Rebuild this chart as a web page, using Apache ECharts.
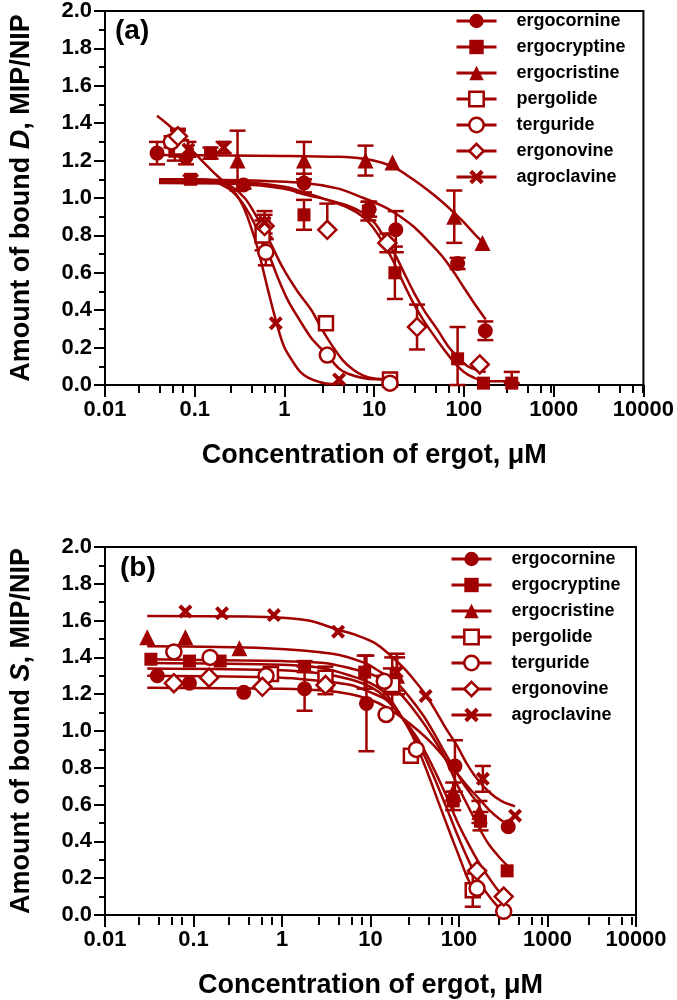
<!DOCTYPE html>
<html><head><meta charset="utf-8">
<script src="https://cdn.jsdelivr.net/npm/echarts@6/dist/echarts.min.js"></script>
<style>html,body{margin:0;padding:0;background:#fff}#c{width:677px;height:1000px}</style>
</head><body><div id="c"></div><script>
// ---------- DATA ----------
const seriesNames = ['ergocornine','ergocryptine','ergocristine','pergolide','terguride','ergonovine','agroclavine'];
const xTickLabels = ['0.01','0.1','1','10','100','1000','10000'];
const yTickLabels = ['0.0','0.2','0.4','0.6','0.8','1.0','1.2','1.4','1.6','1.8','2.0'];
const minorTickMultipliers = [3, 5, 7, 9];

// Panel (a) measured points: [concentration, value, errDown, errUp]
const aErgocornine = [[0.038,1.24,0.06,0.06],[0.08,1.22,0.04,0.04],[0.35,1.07,0.02,0.02],[1.65,1.08,0.05,0.05],[8.8,0.94,0.04,0.04],[17.4,0.83,0.12,0.1],[85,0.65,0.03,0.03],[173,0.29,0.05,0.05]];
const aErgocryptine = [[0.06,1.25,0.05,0.05],[0.09,1.10,0.02,0.02],[0.15,1.24,0.03,0.03],[1.65,0.91,0.08,0.08],[8.6,0.93,0.05,0.05],[17,0.60,0.14,0.14],[85,0.14,0.14,0.17],[165,0.01,0,0],[341,0.01,0,0.06]];
const aErgocristine = [[0.065,1.32,0.05,0.05],[0.3,1.2,0.16,0.16],[1.65,1.2,0.1,0.1],[8,1.2,0.08,0.08],[16,1.19,0,0],[78,0.9,0.14,0.14],[161,0.76,0,0]];
const aPergolide = [[0.07,1.27,0.04,0.04],[0.57,0.80,0.08,0.08],[2.9,0.33,0,0],[15,0.03,0,0]];
const aTerguride = [[0.055,1.30,0.03,0.03],[0.62,0.71,0.07,0.07],[3.0,0.16,0,0],[15,0.01,0,0]];
const aErgonovine = [[0.065,1.33,0.03,0.03],[0.6,0.85,0.06,0.06],[3.0,0.83,0,0.14],[14,0.76,0.05,0.05],[30,0.31,0.12,0.12],[150,0.11,0,0]];
const aAgroclavine = [[0.085,1.26,0.04,0.04],[0.21,1.27,0.03,0.03],[0.6,0.87,0.06,0.06],[0.8,0.33,0,0],[4.06,0.03,0,0]];

// Panel (a) fitted curves: [concentration, value]
const aCurveErgocornine = [[0.04,1.10],[0.3,1.095],[1.65,1.08],[4,1.05],[7.6,1.0],[12,0.96],[17,0.92],[27,0.85],[40,0.77],[57,0.69],[78,0.6],[100,0.52],[129,0.44],[175,0.35]];
const aCurveErgocryptine = [[0.04,1.09],[0.3,1.085],[1,1.06],[1.65,1.03],[3,0.99],[5,0.95],[7.5,0.9],[9.8,0.84],[13,0.75],[16,0.67],[20,0.57],[26.5,0.45],[35,0.35],[47,0.26],[62,0.18],[78,0.12],[100,0.07],[128,0.04],[175,0.02],[350,0.02]];
const aCurveErgocristine = [[0.04,1.23],[1,1.225],[4,1.22],[7.6,1.21],[12,1.19],[17.4,1.16],[27,1.1],[40,1.04],[57,0.98],[78,0.92],[100,0.87],[130,0.81],[165,0.76]];
const aCurvePergolide = [[0.04,1.10],[0.1,1.10],[0.18,1.09],[0.26,1.06],[0.36,1.0],[0.45,0.93],[0.65,0.79],[0.95,0.63],[1.4,0.5],[2.0,0.40],[2.6,0.3],[3.3,0.22],[4.5,0.13],[5.9,0.08],[7.6,0.05],[10,0.035],[15,0.03]];
const aCurveTerguride = [[0.04,1.10],[0.1,1.10],[0.16,1.09],[0.24,1.05],[0.32,0.99],[0.4,0.92],[0.5,0.83],[0.62,0.74],[0.85,0.57],[1.1,0.45],[1.42,0.36],[2.0,0.25],[3.0,0.16],[4,0.09],[5.1,0.06],[8,0.035],[15,0.03]];
const aCurveErgonovine = [[0.04,1.08],[0.3,1.075],[1,1.05],[1.65,1.02],[3,0.99],[5,0.96],[7.5,0.92],[10,0.87],[13,0.79],[17,0.7],[22,0.59],[28,0.49],[37,0.39],[50,0.3],[66,0.21],[85,0.15],[110,0.1],[140,0.08],[175,0.07]];
const aCurveAgroclavine = [[0.038,1.44],[0.06,1.36],[0.1,1.24],[0.16,1.14],[0.23,1.07],[0.29,1.02],[0.35,0.95],[0.42,0.85],[0.51,0.72],[0.67,0.49],[0.84,0.31],[1.0,0.2],[1.22,0.13],[1.5,0.07],[1.83,0.04],[2.5,0.015],[3.3,0.005],[4.6,0.01]];

// Panel (b) measured points
const bErgocornine = [[0.039,1.30,0,0],[0.09,1.26,0,0],[0.37,1.21,0,0],[1.8,1.23,0.12,0.12],[9.0,1.15,0.26,0.26],[90,0.81,0.14,0.14],[360,0.48,0,0]];
const bErgocryptine = [[0.033,1.39,0,0],[0.09,1.38,0,0],[0.2,1.38,0,0],[1.8,1.35,0.03,0.03],[8.6,1.32,0.09,0.09],[17,1.27,0.07,0.07],[86,0.62,0.05,0.05],[175,0.51,0.05,0.05],[350,0.24,0,0]];
const bErgocristine = [[0.03,1.51,0,0],[0.081,1.51,0,0],[0.33,1.45,0,0],[20,1.3,0.1,0.1],[86,0.67,0.05,0.05],[170,0.56,0.06,0.06]];
const bPergolide = [[0.75,1.31,0,0],[3.1,1.29,0.06,0.06],[17.6,1.25,0.15,0.15],[28.6,0.865,0,0],[143,0.135,0.09,0.09]];
const bTerguride = [[0.06,1.43,0,0],[0.154,1.40,0,0],[0.66,1.30,0,0],[14.3,1.27,0.03,0.03],[15,1.09,0,0],[33,0.9,0,0],[160,0.145,0,0],[320,0.02,0,0]];
const bErgonovine = [[0.06,1.26,0,0],[0.15,1.29,0,0],[0.6,1.24,0,0],[3.1,1.25,0.05,0.05],[160,0.24,0,0],[320,0.1,0,0]];
const bAgroclavine = [[0.081,1.65,0,0],[0.21,1.64,0,0],[0.81,1.63,0,0],[4.3,1.54,0,0],[19.8,1.32,0.1,0.1],[42,1.19,0,0],[186,0.74,0.07,0.07],[430,0.54,0,0]];

// Panel (b) fitted curves
const bCurveErgocornine = [[0.03,1.235],[1,1.23],[3,1.22],[6,1.2],[10,1.17],[15,1.13],[23,1.07],[35,1.0],[50,0.93],[70,0.85],[95,0.77],[130,0.69],[170,0.63],[220,0.57],[290,0.52],[360,0.49]];
const bCurveErgocryptine = [[0.03,1.39],[1,1.38],[3,1.37],[6,1.34],[10,1.31],[15,1.27],[23,1.19],[35,1.08],[50,0.97],[70,0.85],[95,0.71],[130,0.58],[170,0.47],[220,0.38],[290,0.31],[350,0.27]];
const bCurveErgocristine = [[0.03,1.46],[0.66,1.45],[3.7,1.42],[8.6,1.37],[13,1.32],[20,1.26],[28,1.18],[40,1.08],[52,0.99],[66,0.9],[85,0.81],[110,0.72],[140,0.65],[170,0.6]];
const bCurvePergolide = [[0.03,1.37],[1,1.36],[3,1.34],[6,1.3],[10,1.26],[15,1.2],[21,1.1],[30,0.97],[42,0.8],[60,0.6],[80,0.44],[100,0.32],[120,0.22],[143,0.14]];
const bCurveTerguride = [[0.03,1.34],[1,1.33],[3,1.31],[6,1.28],[10,1.24],[15,1.18],[23,1.07],[35,0.93],[50,0.77],[70,0.6],[95,0.44],[130,0.29],[170,0.18],[220,0.1],[270,0.05],[320,0.02]];
const bCurveErgonovine = [[0.03,1.30],[1,1.29],[3,1.27],[6,1.25],[10,1.21],[15,1.17],[23,1.07],[35,0.95],[50,0.81],[70,0.66],[95,0.51],[130,0.38],[170,0.28],[220,0.2],[270,0.14],[320,0.1]];
const bCurveAgroclavine = [[0.03,1.625],[0.66,1.62],[2,1.6],[4.3,1.55],[7,1.52],[11,1.48],[16,1.42],[24,1.34],[32,1.27],[43,1.19],[56,1.1],[72,1.01],[95,0.92],[120,0.83],[160,0.74],[217,0.67],[300,0.62],[430,0.59]];

// ---------- STYLE ----------
const RED = '#A00000';
const XPATH = 'path://M2,0 L5,3 L8,0 L10,2 L7,5 L10,8 L8,10 L5,7 L2,10 L0,8 L3,5 L0,2 Z';
const markerStyles = [
  {symbol:'circle', size:15, filled:true},
  {symbol:'rect', size:13, filled:true},
  {symbol:'triangle', size:16, filled:true},
  {symbol:'rect', size:14, filled:false},
  {symbol:'circle', size:15, filled:false},
  {symbol:'diamond', size:18, filled:false},
  {symbol:XPATH, size:14, filled:true}
];
function itemStyleFor(st){
  return st.filled ? {color:RED, borderWidth:0, opacity:1} : {color:'#fff', borderColor:RED, borderWidth:2.5, opacity:1};
}
const FONT = "'Liberation Sans', Arial, sans-serif";

const panels = [
  {points:[aErgocornine,aErgocryptine,aErgocristine,aPergolide,aTerguride,aErgonovine,aAgroclavine],
   curves:[aCurveErgocornine,aCurveErgocryptine,aCurveErgocristine,aCurvePergolide,aCurveTerguride,aCurveErgonovine,aCurveAgroclavine]},
  {points:[bErgocornine,bErgocryptine,bErgocristine,bPergolide,bTerguride,bErgonovine,bAgroclavine],
   curves:[bCurveErgocornine,bCurveErgocryptine,bCurveErgocristine,bCurvePergolide,bCurveTerguride,bCurveErgonovine,bCurveAgroclavine]}
];

const grids = [
  {left:95, top:10, width:552, height:375},
  {left:96, top:547, width:540, height:370}
];

function errRender(params, api){
  const x = api.value(0), y = api.value(1), dn = api.value(2), up = api.value(3);
  const pT = api.coord([x, y + up]);
  const pB = api.coord([x, y - dn]);
  const h = 8;
  const st = {stroke:RED, lineWidth:2.5};
  return {type:'group', children:[
    {type:'line', shape:{x1:pT[0], y1:pT[1], x2:pB[0], y2:pB[1]}, style:st},
    {type:'line', shape:{x1:pT[0]-h, y1:pT[1], x2:pT[0]+h, y2:pT[1]}, style:st},
    {type:'line', shape:{x1:pB[0]-h, y1:pB[1], x2:pB[0]+h, y2:pB[1]}, style:st}
  ]};
}

const series = [];
panels.forEach((p, pi) => {
  seriesNames.forEach((name, i) => {
    const st = markerStyles[i];
    series.push({type:'line', name, xAxisIndex:pi, yAxisIndex:pi, data:p.curves[i],
      smooth:0.3, showSymbol:false, symbol:st.symbol,
      lineStyle:{color:RED, width:2.5}, itemStyle:itemStyleFor(st), z:2, silent:true});
  });
  seriesNames.forEach((name, i) => {
    series.push({type:'custom', name:'err'+pi+'_'+i, xAxisIndex:pi, yAxisIndex:pi,
      data:p.points[i].filter(d => d[2] > 0 || d[3] > 0), renderItem:errRender, z:3, silent:true});
  });
  seriesNames.forEach((name, i) => {
    const st = markerStyles[i];
    series.push({type:'scatter', name, xAxisIndex:pi, yAxisIndex:pi,
      data:p.points[i].map(d => [d[0], d[1]]),
      symbol:st.symbol, symbolSize:st.size, itemStyle:itemStyleFor(st), z:4, silent:true});
  });
});

// minor log tick positions (in decades) for overlay axes
const minorTickPos = [];
for (let k = -2; k < 4; k++) minorTickMultipliers.forEach(m => minorTickPos.push(k + Math.log10(m)));

const axisLineStyle = {color:'#000', width:2};
const tickLabel = {fontSize:22, fontWeight:'bold', color:'#000', fontFamily:FONT};
const nameStyle = {fontSize:27, fontWeight:'bold', color:'#000', fontFamily:FONT,
  rich:{i:{fontSize:27, fontWeight:'bold', fontStyle:'italic', color:'#000', fontFamily:FONT}}};

function mainX(gi){
  return {type:'log', logBase:10, gridIndex:gi, min:0.01, max:10000, splitNumber:6,
    axisLine:{show:true, lineStyle:axisLineStyle}, axisTick:{show:true, length:12, lineStyle:axisLineStyle},
    minorTick:{show:false}, splitLine:{show:false},
    axisLabel:{...tickLabel, margin:14, formatter:(v) => xTickLabels[Math.round(Math.log10(v)) + 2]},
    name:'Concentration of ergot, μM', nameLocation:'middle', nameGap:57, nameTextStyle:nameStyle};
}
function mainY(gi, letter){
  return {type:'value', gridIndex:gi, min:0, max:2, interval:0.2,
    axisLine:{show:true, lineStyle:axisLineStyle}, axisTick:{show:true, length:11, lineStyle:axisLineStyle},
    minorTick:{show:true, splitNumber:2, length:6, lineStyle:axisLineStyle}, splitLine:{show:false},
    axisLabel:{...tickLabel, margin:13, formatter:(v) => yTickLabels[Math.round(v / 0.2)]},
    name:'Amount of bound {i|' + letter + '}, MIP/NIP', nameLocation:'middle', nameGap:70, nameTextStyle:nameStyle};
}
function minorX(gi){
  return {type:'value', gridIndex:gi, min:-2, max:4, axisLine:{show:false},
    axisTick:{show:true, length:8, lineStyle:axisLineStyle, customValues:minorTickPos},
    axisLabel:{show:false}, splitLine:{show:false}};
}
function hiddenY(gi){
  return {type:'value', gridIndex:gi, min:0, max:2, show:false};
}

const legendData = seriesNames.map((n, i) => ({name:n, itemStyle:itemStyleFor(markerStyles[i])}));
function legendAt(left, top){
  return {orient:'vertical', left, top, padding:0, itemWidth:40, itemHeight:18, itemGap:8, selectedMode:false,
    lineStyle:{width:3},
    data:legendData, textStyle:{fontSize:18, fontWeight:'bold', color:'#000', fontFamily:FONT, padding:[0,0,0,15]}};
}

const option = {
  animation:false,
  backgroundColor:'#fff',
  title:[
    {text:'(a)', left:110, top:12, textStyle:{fontSize:28, fontWeight:'bold', color:'#000', fontFamily:FONT}},
    {text:'(b)', left:115, top:549, textStyle:{fontSize:28, fontWeight:'bold', color:'#000', fontFamily:FONT}}
  ],
  legend:[legendAt(455, 12), legendAt(450, 550)],
  grid:[
    {...grids[0], show:true, borderColor:'#000', borderWidth:2, backgroundColor:'transparent'},
    {...grids[1], show:true, borderColor:'#000', borderWidth:2, backgroundColor:'transparent'},
    {...grids[0]},
    {...grids[1]}
  ],
  xAxis:[mainX(0), mainX(1), minorX(2), minorX(3)],
  yAxis:[mainY(0,'D'), mainY(1,'S'), hiddenY(2), hiddenY(3)],
  series
};

const chart = echarts.init(document.getElementById('c'), null, {renderer:'canvas'});
chart.setOption(option);
</script></body></html>
